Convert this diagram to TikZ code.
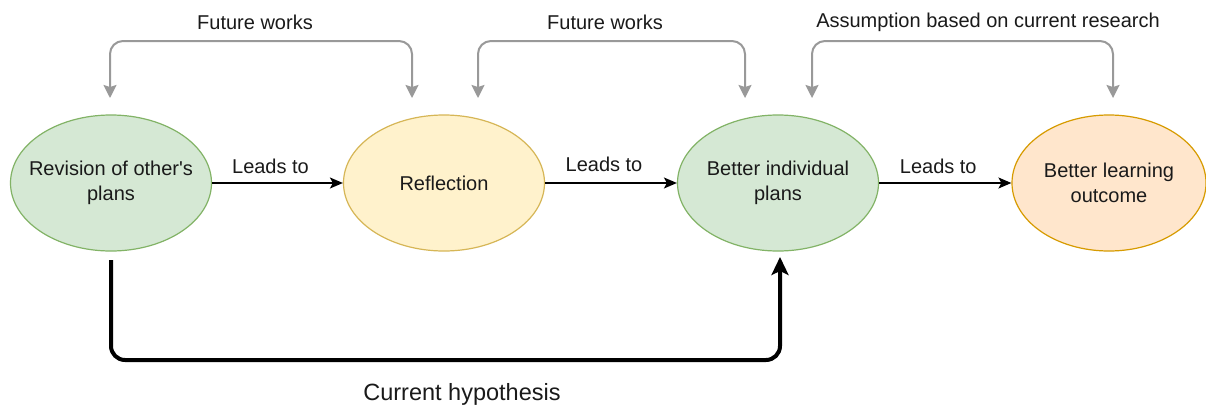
\documentclass[tikz,border=0pt]{standalone}
\usepackage{fontspec}
\setmainfont{Liberation Sans}[Ligatures=TeXOff]
\usetikzlibrary{arrows.meta,shapes.geometric}
\definecolor{gfill}{HTML}{D5E8D4}
\definecolor{gdraw}{HTML}{82B366}
\definecolor{yfill}{HTML}{FFF2CC}
\definecolor{ydraw}{HTML}{D6B656}
\definecolor{ofill}{HTML}{FFE6CC}
\definecolor{odraw}{HTML}{D79B00}
\definecolor{garrow}{HTML}{999999}
\definecolor{txt}{HTML}{1A1A1A}
\begin{document}
\begin{tikzpicture}[x=1pt,y=-1pt,
  oval/.style={ellipse, draw, line width=1.2pt, minimum width=201pt, minimum height=136pt, inner sep=0pt},
  lbl/.style={font=\fontsize{20}{24}\selectfont, text=txt, inner sep=0pt},
  intext/.style={lbl, align=center, font=\fontsize{20}{25}\selectfont},
  leads/.style={draw=black, line width=1.6pt, -{Stealth[length=13pt,width=11pt,inset=3pt]}},
  gtip/.tip={Stealth[length=13pt,width=13pt,inset=2pt]},
  grayarrow/.style={draw=garrow, line width=2pt, rounded corners=13pt, gtip-gtip},
  hypo/.style={draw=black, line width=4pt, rounded corners=14pt, -{Stealth[length=18pt,width=17pt,inset=4pt]}}
]
\useasboundingbox (0,0) rectangle (1206,407);
\fill[white] (0,0) rectangle (1206,407);

\node[oval, fill=gfill, draw=gdraw] (e1) at (111,183) {};
\node[oval, fill=yfill, draw=ydraw] (e2) at (444,183) {};
\node[oval, fill=gfill, draw=gdraw] (e3) at (778,183) {};
\node[oval, fill=ofill, draw=odraw, minimum width=194pt] (e4) at (1109,183) {};
\node[intext] (n1) at (e1.center) {Revision of other's\\plans};
\node[intext] (n2) at (e2.center) {Reflection};
\node[intext] (n3) at (e3.center) {Better individual\\plans};
\node[intext] (n4) at (e4.center) {Better learning\\outcome};

\draw[leads] (e1) -- node[lbl, above=9pt, xshift=-7pt] {Leads to} (e2);
\draw[leads] (e2) -- node[lbl, above=11pt, xshift=-7pt] {Leads to} (e3);
\draw[leads] (e3) -- node[lbl, above=9pt, xshift=-7pt] {Leads to} (e4);

% top gray brackets
\coordinate (a1) at (110,98);
\coordinate (a2) at (412,98);
\coordinate (b1) at (478,98);
\coordinate (b2) at (745,98);
\coordinate (c1) at (812,98);
\coordinate (c2) at (1113,98);
\draw[grayarrow] (a1) -- (110,41) -- (412,41) -- (a2);
\draw[grayarrow] (b1) -- (478,41) -- (745,41) -- (b2);
\draw[grayarrow] (c1) -- (812,41) -- (1113,41) -- (c2);
\node[lbl] (t1) at (255,22) {Future works};
\node[lbl] (t2) at (605,22) {Future works};
\node[lbl] (t3) at (988,22) {Assumption based on current research};

% bottom hypothesis
\coordinate (h1) at (111,260);
\coordinate (h2) at (780,257);
\draw[hypo] (h1) -- (111,360) -- (780,360) -- (h2);
\node[lbl, font=\fontsize{23.5}{28}\selectfont] (t4) at (462,394) {Current hypothesis};
\end{tikzpicture}
\end{document}
